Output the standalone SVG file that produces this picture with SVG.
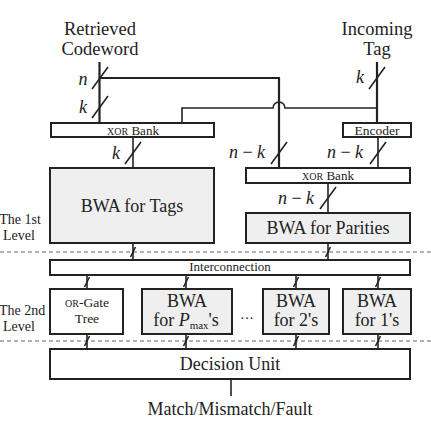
<svg xmlns="http://www.w3.org/2000/svg" width="431" height="422" viewBox="0 0 431 422">
<style>
.box{stroke:#222;stroke-width:2;fill:#fff}
.gray{fill:#efefef}
.ln{stroke:#222;fill:none;stroke-width:1.6}
.thick{stroke-width:2.2}
.dash{stroke:#999;stroke-width:1.4;stroke-dasharray:4 3;fill:none}
.sl{stroke:#222;stroke-width:1.6;fill:none}
.c{text-anchor:middle;fill:#222}
.t18{font-size:18px}
.t14{font-size:14px}
.it{font-style:italic}
</style>
<defs>
<path id="big" d="M-8,11 L8,-11"/>
<path id="small" d="M-2.5,5 L2.5,-5"/>
</defs>
<rect width="431" height="422" fill="#fff"/>
<g font-family="'Liberation Serif', serif">

<g id="level-labels">
<text class="c t14" x="20" y="224">The 1st</text>
<text class="c t14" x="19" y="240">Level</text>
<text class="c t14" x="22" y="315">The 2nd</text>
<text class="c t14" x="19" y="331">Level</text>
</g>

<g id="separators">
<line class="dash" x1="0" y1="252" x2="431" y2="252"/>
<line class="dash" x1="0" y1="341" x2="431" y2="341"/>
</g>

<g id="connectors">
<line class="ln thick" x1="99.5" y1="62" x2="99.5" y2="123"/>
<path class="ln thick" d="M99.5,78 H279 V168"/>
<path class="ln" d="M182,123 V108 H273 A6,6 0 0 1 285,108 H377"/>
<line class="ln thick" x1="377" y1="62" x2="377" y2="123"/>
<line class="ln" x1="378" y1="137" x2="378" y2="168"/>
<line class="ln" x1="133" y1="137" x2="133" y2="168"/>
<line class="ln" x1="328" y1="183" x2="328" y2="213"/>
<line class="ln" x1="133" y1="243" x2="133" y2="260"/>
<line class="ln" x1="328" y1="243" x2="328" y2="260"/>
<line class="ln" x1="87" y1="275" x2="87" y2="289"/>
<line class="ln" x1="186" y1="275" x2="186" y2="289"/>
<line class="ln" x1="296" y1="275" x2="296" y2="289"/>
<line class="ln" x1="378" y1="275" x2="378" y2="289"/>
<line class="ln" x1="87" y1="334" x2="87" y2="349"/>
<line class="ln" x1="186" y1="334" x2="186" y2="349"/>
<line class="ln" x1="296" y1="334" x2="296" y2="349"/>
<line class="ln" x1="378" y1="334" x2="378" y2="349"/>
<line class="ln" x1="231" y1="379" x2="231" y2="396"/>

<use href="#big" class="sl" x="100" y="78"/>
<use href="#big" class="sl" x="100" y="107"/>
<use href="#big" class="sl" x="377" y="78"/>
<use href="#big" class="sl" x="133" y="153"/>
<use href="#big" class="sl" x="279" y="153"/>
<use href="#big" class="sl" x="378" y="153"/>
<use href="#big" class="sl" x="328" y="198"/>

<use href="#small" class="sl" x="133" y="252"/>
<use href="#small" class="sl" x="328" y="252"/>
<use href="#small" class="sl" x="87" y="282"/>
<use href="#small" class="sl" x="186" y="282"/>
<use href="#small" class="sl" x="296" y="282"/>
<use href="#small" class="sl" x="378" y="282"/>
<use href="#small" class="sl" x="87" y="341"/>
<use href="#small" class="sl" x="186" y="341"/>
<use href="#small" class="sl" x="296" y="341"/>
<use href="#small" class="sl" x="378" y="341"/>

<text class="c t18 it" x="83" y="85">n</text>
<text class="c t18 it" x="83" y="113">k</text>
<text class="c t18 it" x="360" y="83">k</text>
<text class="c t18 it" x="116" y="159">k</text>
<text class="c t18" x="247" y="158"><tspan class="it">n</tspan> − <tspan class="it">k</tspan></text>
<text class="c t18" x="345" y="158"><tspan class="it">n</tspan> − <tspan class="it">k</tspan></text>
<text class="c t18" x="296" y="204"><tspan class="it">n</tspan> − <tspan class="it">k</tspan></text>
</g>

<g id="retrieved-codeword">
<text class="c" font-size="18.5" x="100" y="35">Retrieved</text>
<text class="c" font-size="18.5" x="100" y="55">Codeword</text>
</g>

<g id="incoming-tag">
<text class="c" font-size="18.5" x="377" y="35">Incoming</text>
<text class="c" font-size="18.5" x="377" y="55">Tag</text>
</g>

<g id="xor-bank-1">
<rect class="box" x="51" y="123" width="163" height="14"/>
<text class="c" x="133" y="135" font-size="13"><tspan font-size="10">XOR</tspan> Bank</text>
</g>

<g id="encoder">
<rect class="box" x="343" y="123" width="68" height="14"/>
<text class="c" x="377" y="135" font-size="13.5">Encoder</text>
</g>

<g id="bwa-tags">
<rect class="box gray" x="50" y="168" width="164" height="75"/>
<text class="c t18" x="132" y="212">BWA for Tags</text>
</g>

<g id="xor-bank-2">
<rect class="box" x="246" y="168" width="164" height="15"/>
<text class="c" x="328" y="180" font-size="13"><tspan font-size="10">XOR</tspan> Bank</text>
</g>

<g id="bwa-parities">
<rect class="box gray" x="246" y="213" width="164" height="30"/>
<text class="c t18" x="328" y="234">BWA for Parities</text>
</g>

<g id="interconnection">
<rect class="box" x="50" y="260" width="360" height="15"/>
<text class="c" x="230" y="271" font-size="13">Interconnection</text>
</g>

<g id="or-gate-tree">
<rect class="box" x="50" y="289" width="73" height="45"/>
<text class="c" x="87" y="307" font-size="13.5"><tspan font-size="10">OR</tspan>-Gate</text>
<text class="c" x="87" y="323" font-size="13.5">Tree</text>
</g>

<g id="bwa-pmax">
<rect class="box gray" x="142" y="289" width="90" height="45"/>
<text class="c t18" x="187" y="307">BWA</text>
<text class="c t18" x="186" y="326">for <tspan class="it">P</tspan><tspan font-size="11" dy="3">max</tspan><tspan dy="-3">'s</tspan></text>
</g>

<g id="ellipsis">
<text class="c t14" x="247" y="323">···</text>
</g>

<g id="bwa-2s">
<rect class="box gray" x="263" y="289" width="66" height="45"/>
<text class="c t18" x="296" y="307">BWA</text>
<text class="c t18" x="296" y="326">for 2's</text>
</g>

<g id="bwa-1s">
<rect class="box gray" x="343" y="289" width="68" height="45"/>
<text class="c t18" x="377" y="307">BWA</text>
<text class="c t18" x="377" y="326">for 1's</text>
</g>

<g id="decision-unit">
<rect class="box" x="50" y="349" width="360" height="30"/>
<text class="c t18" x="230" y="370">Decision Unit</text>
</g>

<g id="output">
<text class="c t18" x="230" y="415">Match/Mismatch/Fault</text>
</g>
</g>
</svg>
